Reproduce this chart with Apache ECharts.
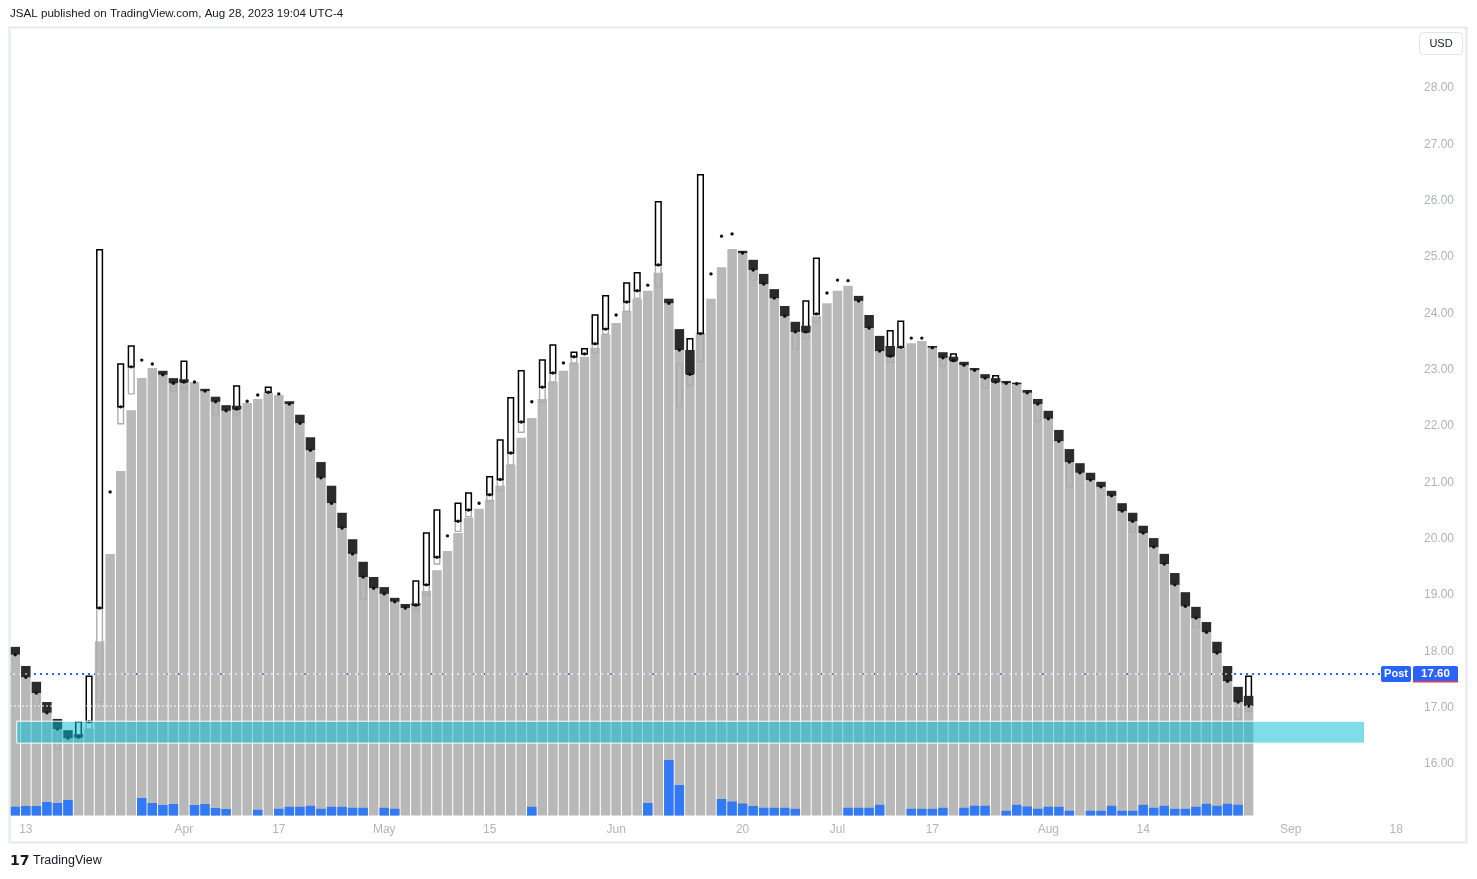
<!DOCTYPE html>
<html><head><meta charset="utf-8">
<script src="https://cdn.jsdelivr.net/npm/echarts@6/dist/echarts.min.js"></script>
<style>html,body{margin:0;padding:0;background:#fff;}#c{width:1477px;height:879px;}</style>
</head><body><div id="c"></div>
<script>
// ---------------- data ----------------
const dates = [
'03-10','03-13','03-14','03-15','03-16','03-17','03-20','03-21','03-22','03-23',
'03-24','03-27','03-28','03-29','03-30','03-31','04-03','04-04','04-05','04-06',
'04-10','04-11','04-12','04-13','04-14','04-17','04-18','04-19','04-20','04-21',
'04-24','04-25','04-26','04-27','04-28','05-01','05-02','05-03','05-04','05-05',
'05-08','05-09','05-10','05-11','05-12','05-15','05-16','05-17','05-18','05-19',
'05-22','05-23','05-24','05-25','05-26','05-30','05-31','06-01','06-02','06-05',
'06-06','06-07','06-08','06-09','06-12','06-13','06-14','06-15','06-16','06-20',
'06-21','06-22','06-23','06-26','06-27','06-28','06-29','06-30','07-03','07-05',
'07-06','07-07','07-10','07-11','07-12','07-13','07-14','07-17','07-18','07-19',
'07-20','07-21','07-24','07-25','07-26','07-27','07-28','07-31','08-01','08-02',
'08-03','08-04','08-07','08-08','08-09','08-10','08-11','08-14','08-15','08-16',
'08-17','08-18','08-21','08-22','08-23','08-24','08-25','08-28',
'08-29','08-30','08-31','09-01','09-05','09-06','09-07','09-08','09-11','09-12','09-13','09-14','09-15','09-18','09-19'
];
const xTickLabels = [['03-13','13'],['04-03','Apr'],['04-17','17'],['05-01','May'],['05-15','15'],['06-01','Jun'],
  ['06-20','20'],['07-03','Jul'],['07-17','17'],['08-01','Aug'],['08-14','14'],['09-01','Sep'],['09-18','18']];
const yTickLabels = ['16.00','17.00','18.00','19.00','20.00','21.00','22.00','23.00','24.00','25.00','26.00','27.00','28.00'];

// gray column (top value per session)
const columnTop = [
17.94,17.54,17.26,16.91,16.62,16.46,16.48,16.62,18.18,19.73,
21.20,22.28,22.85,23.03,22.91,22.76,22.78,22.78,22.62,22.43,
22.27,22.30,22.41,22.48,22.59,22.55,22.39,22.05,21.57,21.08,
20.63,20.19,19.73,19.32,19.12,19.02,18.88,18.77,18.82,19.07,
19.44,19.78,20.10,20.37,20.53,20.69,20.94,21.31,21.79,22.14,
22.48,22.78,22.98,23.12,23.23,23.39,23.62,23.83,24.04,24.26,
24.40,24.72,24.18,23.35,22.92,23.65,24.26,24.82,25.14,25.07,
24.77,24.52,24.27,23.95,23.67,23.67,23.95,24.18,24.40,24.49,
24.22,23.74,23.33,23.24,23.40,23.47,23.51,23.39,23.21,23.16,
23.08,22.99,22.85,22.78,22.76,22.75,22.59,22.39,22.13,21.73,
21.36,21.17,21.04,20.92,20.76,20.49,20.31,20.10,19.85,19.55,
19.18,18.80,18.59,18.34,17.97,17.47,17.10,17.03
];
// dot marker value per session
const dotValue = [
17.94,17.54,17.26,16.91,16.62,16.46,16.48,16.75,18.77,20.83,
22.34,23.05,23.17,23.10,22.91,22.76,22.78,22.78,22.62,22.43,
22.27,22.30,22.44,22.55,22.60,22.57,22.39,22.05,21.57,21.08,
20.63,20.19,19.73,19.32,19.12,19.02,18.88,18.77,18.82,19.18,
19.67,20.05,20.31,20.51,20.63,20.78,21.05,21.52,22.07,22.43,
22.69,22.94,23.12,23.23,23.28,23.46,23.72,23.97,24.20,24.40,
24.50,24.86,24.18,23.35,22.92,23.64,24.70,25.37,25.41,25.07,
24.77,24.52,24.27,23.95,23.67,23.67,23.99,24.36,24.59,24.58,
24.22,23.74,23.33,23.24,23.40,23.56,23.56,23.39,23.21,23.16,
23.08,22.99,22.85,22.78,22.76,22.75,22.59,22.39,22.13,21.73,
21.36,21.17,21.04,20.92,20.76,20.49,20.31,20.10,19.85,19.55,
19.18,18.80,18.59,18.34,17.97,17.47,17.10,17.03
];
// filled (down) bodies [low, high]
const darkBody = [
[17.94,18.08],[17.54,17.74],[17.26,17.46],[16.91,17.10],[16.62,16.80],[16.46,16.60],[16.48,16.53],null,null,null,
null,null,null,null,[22.91,22.98],[22.76,22.85],[22.78,22.83],null,[22.62,22.66],[22.43,22.52],
[22.27,22.37],[22.30,22.36],null,null,null,null,[22.39,22.44],[22.05,22.20],[21.57,21.80],[21.08,21.36],
[20.63,20.94],[20.19,20.46],[19.73,19.99],[19.32,19.59],[19.12,19.32],[19.02,19.14],[18.88,18.95],[18.77,18.84],[18.82,18.85],null,
null,null,null,null,null,null,null,null,null,null,
null,null,null,null,null,null,null,null,null,null,
null,null,[24.18,24.26],[23.35,23.72],[22.92,23.35],null,null,null,null,[25.07,25.11],
[24.77,24.95],[24.52,24.70],[24.27,24.43],[23.95,24.13],[23.67,23.85],[23.67,23.78],null,null,null,null,
[24.22,24.31],[23.74,23.97],[23.33,23.60],[23.24,23.42],null,null,null,[23.39,23.42],[23.21,23.31],[23.16,23.23],
[23.08,23.14],[22.99,23.03],[22.85,22.92],[22.78,22.85],[22.76,22.80],[22.75,22.77],[22.59,22.64],[22.39,22.48],[22.13,22.27],[21.73,21.93],
[21.36,21.59],[21.17,21.34],[21.04,21.17],[20.92,21.01],[20.76,20.85],[20.49,20.63],[20.31,20.46],[20.10,20.23],[19.85,20.01],[19.55,19.73],
[19.18,19.39],[18.80,19.05],[18.59,18.79],[18.34,18.52],[17.97,18.17],[17.47,17.74],[17.10,17.37],[17.03,17.21]
];
// hollow (up) bodies [low, high]
const hollowBody = [
null,null,null,null,null,null,[16.48,16.75],[16.75,17.56],[18.77,25.13],null,
[22.34,23.10],[23.05,23.42],null,null,null,null,[22.78,23.15],null,null,null,
null,[22.30,22.71],null,null,[22.60,22.69],null,null,null,null,null,
null,null,null,null,null,null,null,null,[18.82,19.25],[19.18,20.10],
[19.67,20.51],null,[20.31,20.63],[20.51,20.81],null,[20.78,21.10],[21.05,21.75],[21.52,22.50],[22.07,22.98],null,
[22.69,23.17],[22.94,23.44],null,[23.23,23.31],[23.28,23.37],[23.46,23.97],[23.72,24.31],null,[24.20,24.54],[24.40,24.72],
null,[24.86,25.98],null,null,[22.92,23.55],[23.64,26.46],null,null,null,null,
null,null,null,null,null,[23.67,24.22],[23.99,24.98],null,null,null,
null,null,null,[23.24,23.69],[23.40,23.86],null,null,null,null,[23.16,23.28],
null,null,null,[22.78,22.89],null,null,null,null,null,null,
null,null,null,null,null,null,null,null,null,null,
null,null,null,null,null,null,null,[17.05,17.56]
];
// faint outlined boxes [low, high]
const ghostBody = [
null,null,[17.03,17.26],null,[16.27,16.66],null,null,[16.62,16.75],[17.10,18.77],null,
[22.04,22.34],[22.57,23.05],null,null,null,[22.62,22.76],[22.66,22.78],null,null,[22.20,22.43],
null,[22.20,22.30],null,null,null,null,null,null,null,null,
null,null,null,[18.93,19.32],null,null,null,null,[18.73,18.82],[19.00,19.18],
[19.55,19.67],null,[20.13,20.31],[20.39,20.51],null,[20.67,20.78],[20.85,21.05],[21.31,21.52],[21.89,22.07],null,
[22.43,22.69],[22.78,22.94],null,[23.12,23.23],null,[23.30,23.46],[23.63,23.72],null,[24.04,24.20],[24.27,24.40],
null,[24.47,24.86],null,[22.34,23.10],[22.73,22.92],[23.14,23.65],null,null,null,null,
[24.59,24.70],null,null,null,[23.37,23.67],[23.55,23.67],[23.85,23.99],null,null,null,
null,null,null,[23.13,23.24],null,null,null,null,[23.07,23.21],null,
null,null,[22.67,22.85],null,null,null,null,[22.09,22.39],null,null,
[20.92,21.36],null,null,null,null,null,[20.12,20.31],null,null,null,
null,null,[18.43,18.59],null,null,null,[16.80,17.10],[16.94,17.05]
];
// volume (shares)
const volume = [
880,950,950,1350,1250,1550,null,null,null,null,
null,null,1750,1250,1050,1150,null,1050,1150,750,
650,null,null,570,null,670,870,870,970,670,
870,870,770,770,null,770,670,null,null,null,
null,null,null,null,null,null,null,null,null,870,
null,null,null,null,null,null,null,null,null,null,
1250,null,5550,3050,null,null,null,1650,1400,1200,
950,770,770,770,670,null,null,null,null,770,
770,770,1070,null,null,670,670,670,770,null,
770,970,970,null,470,1070,900,670,870,870,
470,null,470,470,970,470,470,1070,770,970,
670,670,870,1170,970,1170,1070,null
];
const postPrice = 17.60;
const lastClose = 17.03;
const zoneFrom = '03-10', zoneTo = '09-13', zoneTop = 16.76, zoneBottom = 16.37;

// ---------------- chart ----------------
const GRID = {left: 10, right: 65, top: 28, bottom: 63.5};
const xTickMap = new Map(xTickLabels);
const chart = echarts.init(document.getElementById('c'), null, {renderer: 'canvas'});
const idxData = columnTop.map((v, i) => [i, v]);

function renderColumn(params, api) {
  const i = api.value(0);
  const cs = params.coordSys;
  const w = api.size([1, 0])[0] * 0.9;
  const p = api.coord([i, api.value(1)]);
  const bottom = cs.y + cs.height;
  return {type: 'rect', shape: {x: p[0] - w / 2, y: p[1], width: w, height: bottom - p[1]},
          style: {fill: '#b8b8b8'}};
}
function renderCandle(params, api) {
  const i = api.value(0);
  const band = api.size([1, 0])[0];
  const wd = band * 0.9, wn = 5.6;
  const x = api.coord([i, dotValue[i]])[0];
  const yOf = v => api.coord([i, v])[1];
  const ch = [];
  const g = ghostBody[i], h = hollowBody[i], d = darkBody[i];
  if (g) ch.push({type: 'rect', shape: {x: x - wn / 2, y: yOf(g[1]), width: wn, height: yOf(g[0]) - yOf(g[1])},
                  style: {fill: 'none', stroke: '#acacac', lineWidth: 1.4}});
  if (h) ch.push({type: 'rect', shape: {x: x - wn / 2, y: yOf(h[1]), width: wn, height: yOf(h[0]) - yOf(h[1])},
                  style: {fill: '#ffffff', stroke: '#000000', lineWidth: 1.5}});
  if (d) ch.push({type: 'rect', shape: {x: x - wd / 2, y: yOf(d[1]), width: wd, height: Math.max(yOf(d[0]) - yOf(d[1]), 1.5)},
                  style: {fill: '#2b2b2b'}});
  ch.push({type: 'circle', shape: {cx: x, cy: yOf(dotValue[i]), r: 1.7}, style: {fill: '#111111'}});
  return {type: 'group', children: ch};
}
function hLine(color, width, dash, offset) {
  return function (params, api) {
    const cs = params.coordSys;
    const y = api.coord([0, api.value(1)])[1];
    return {type: 'line', shape: {x1: cs.x, y1: y, x2: cs.x + cs.width, y2: y},
            style: {stroke: color, lineWidth: width, lineDash: dash, lineDashOffset: offset}};
  };
}

const option = {
  animation: false,
  backgroundColor: '#ffffff',
  grid: GRID,
  xAxis: {
    type: 'category', data: dates, boundaryGap: true,
    axisLine: {show: false}, axisTick: {show: false}, splitLine: {show: false},
    axisLabel: {
      interval: (idx, val) => xTickMap.has(val),
      formatter: val => xTickMap.get(val) || '',
      color: '#b2b5be', fontSize: 12, margin: 8, fontFamily: 'Liberation Sans'
    }
  },
  yAxis: [{
    type: 'value', position: 'right', min: 15.086, max: 29.065, splitNumber: 14,
    axisLine: {show: false}, axisTick: {show: false}, splitLine: {show: false},
    axisLabel: {
      showMinLabel: false, showMaxLabel: false, margin: 12,
      formatter: v => { const s = Number(v).toFixed(2); return yTickLabels.includes(s) ? s : ''; },
      color: '#afb2bb', fontSize: 12, fontFamily: 'Liberation Sans'
    }
  }, {
    type: 'value', min: 0, max: 78750, show: false
  }],
  series: [
    {type: 'custom', name: 'postLineUnder', z: 1, silent: true, data: [[0, postPrice]],
     renderItem: hLine('#2962ff', 2, [2, 4], 0)},
    {type: 'custom', name: 'columns', z: 2, silent: true, data: idxData, renderItem: renderColumn},
    {type: 'bar', name: 'volume', yAxisIndex: 1, z: 3, silent: true, data: volume, barWidth: '90%',
     itemStyle: {color: '#3179f5'}},
    {type: 'custom', name: 'candles', z: 4, silent: true, data: idxData, renderItem: renderCandle},
    {type: 'custom', name: 'postLineOver', z: 5, silent: true, data: [[0, postPrice]],
     renderItem: hLine('rgba(255,255,255,0.55)', 2, [2, 4], 3)},
    {type: 'custom', name: 'closeLine', z: 5, silent: true, data: [[0, lastClose]],
     renderItem: hLine('rgba(255,255,255,0.95)', 1, [2, 2], 0)},
    {type: 'custom', name: 'zone', z: 6, silent: true,
     data: [[dates.indexOf(zoneFrom), zoneTop, dates.indexOf(zoneTo), zoneBottom]],
     renderItem: (params, api) => {
       const p0 = api.coord([api.value(0), api.value(1)]);
       const p1 = api.coord([api.value(2), api.value(3)]);
       return {type: 'rect', shape: {x: p0[0] + 1.5, y: p0[1], width: p1[0] - p0[0] - 1.5, height: p1[1] - p0[1]},
               style: {fill: 'rgba(0,188,212,0.5)', stroke: '#ffffff', lineWidth: 1}};
     }}
  ]
};
chart.setOption(option);

const yPost = chart.convertToPixel({yAxisIndex: 0}, postPrice);
const gridRight = chart.getWidth() - GRID.right;
const txt = (x, y, text, style) => ({type: 'text', x, y, silent: true, z: 100,
  style: Object.assign({text, font: '11.6px "Liberation Sans"', fill: '#131722', textVerticalAlign: 'middle'}, style)});
chart.setOption({graphic: [
  {type: 'rect', z: 90, silent: true, shape: {x: 9.5, y: 27.5, width: 1457, height: 815}, style: {fill: 'none', stroke: '#e6e8ee', lineWidth: 2}},
  txt(10, 14, 'JSAL published on TradingView.com, Aug 28, 2023 19:04 UTC-4', {}),
  {type: 'rect', z: 100, silent: true, shape: {x: 1419.5, y: 32.5, width: 43, height: 22, r: 4}, style: {fill: '#fff', stroke: '#e0e3eb', lineWidth: 1}},
  txt(1441, 44, 'USD', {font: '11px "Liberation Sans"', textAlign: 'center'}),
  {type: 'rect', z: 100, silent: true, shape: {x: gridRight - 31, y: yPost - 8, width: 30, height: 16, r: 2}, style: {fill: '#2962ff'}},
  txt(gridRight - 16, yPost, 'Post', {font: 'bold 11px "Liberation Sans"', fill: '#fff', textAlign: 'center'}),
  {type: 'rect', z: 100, silent: true, shape: {x: gridRight + 1, y: yPost - 8, width: 45, height: 16, r: 2}, style: {fill: '#2962ff'}},
  {type: 'rect', z: 101, silent: true, shape: {x: gridRight + 1, y: yPost + 7, width: 45, height: 1.5}, style: {fill: '#f23645'}},
  txt(gridRight + 23.5, yPost, postPrice.toFixed(2), {font: 'bold 11.5px "Liberation Sans"', fill: '#fff', textAlign: 'center'}),
  txt(10, 861, '17', {font: 'bold 14px "DejaVu Sans"', fill: '#131722'}),
  txt(33, 861, 'TradingView', {font: '12.5px "Liberation Sans"', fill: '#131722'})
]});
</script>
</body></html>
